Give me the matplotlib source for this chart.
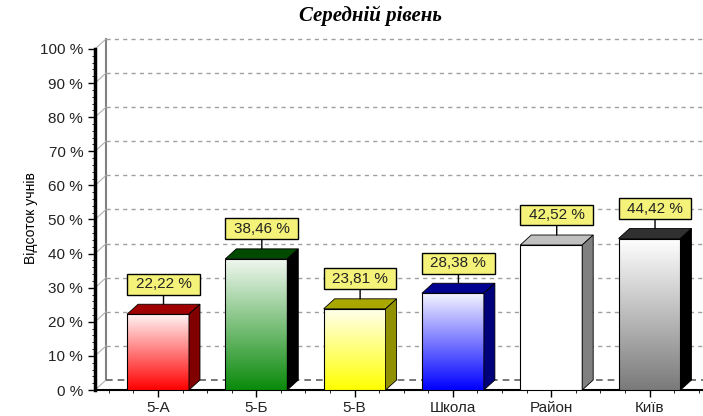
import numpy as np
import matplotlib
matplotlib.use("Agg")
import matplotlib.pyplot as plt
from matplotlib.colors import LinearSegmentedColormap
from matplotlib.patches import Polygon, Rectangle
from matplotlib.path import Path

groups = ["5-А", "5-Б", "5-В", "Школа", "Район", "Київ"]
values = [22.22, 38.46, 23.81, 28.38, 42.52, 44.42]
labels = ["22,22 %", "38,46 %", "23,81 %", "28,38 %", "42,52 %", "44,42 %"]
y_ticks = [0, 10, 20, 30, 40, 50, 60, 70, 80, 90, 100]

# face gradient (top -> bottom), top face, side face
face_top = ["#fff4f4", "#f2f8f2", "#fffff0", "#f4f4ff", "#ffffff", "#ffffff"]
face_bottom = ["#ff0000", "#0a8a0a", "#ffff00", "#0000ff", "#ffffff", "#7a7a7a"]
top_col = ["#a00000", "#004a00", "#a8a800", "#000090", "#c0c0c0", "#303030"]
side_col = ["#800000", "#000000", "#909000", "#00007a", "#808080", "#000000"]


def wide_box(x0, y0, width, height, mutation_size):
    # label box: wider on the sides than on top/bottom
    padx = 0.55 * mutation_size
    pady = 0.22 * mutation_size
    x0, y0 = x0 - padx, y0 - pady
    x1, y1 = x0 + width + 2 * padx, y0 + height + 2 * pady
    return Path([(x0, y0), (x1, y0), (x1, y1), (x0, y1), (x0, y0)], closed=True)


plt.rcParams["font.family"] = ["Liberation Sans", "DejaVu Sans"]

fig = plt.figure(figsize=(7.03, 4.16), dpi=100)
ax = fig.add_axes([95 / 703, 26 / 416, 608 / 703, 355 / 416])

x0, x1 = -0.641, 5.544
dx, dy = 0.112, 2.93
w = 0.63

# back wall, grid and floor
ax.plot([x0 + dx, x0 + dx], [dy, 100 + dy], color="#808080", lw=1.5, zorder=1)
for t in y_ticks:
    ax.plot([x0, x0 + dx], [t, t + dy], color="#b0b0b0", lw=0.8, zorder=1)
    if t == 0:
        ax.plot([x0 + dx, x1], [dy, dy], color="#606060", lw=1.2, ls=(0, (4, 3)), zorder=1)
    else:
        ax.plot([x0 + dx, x1], [t + dy, t + dy], color="#a0a0a0", lw=1, ls=(0, (3, 3)), zorder=1)

grad = np.linspace(0, 1, 256).reshape(-1, 1)
for i, v in enumerate(values):
    cmap = LinearSegmentedColormap.from_list("g%d" % i, [face_top[i], face_bottom[i]])
    ax.imshow(grad, cmap=cmap, extent=(i - w / 2, i + w / 2, 0, v), origin="upper",
              aspect="auto", zorder=3)
    ax.add_patch(Rectangle((i - w / 2, 0), w, v, fill=False, ec="black", lw=0.8, zorder=4))
    ax.add_patch(Polygon([(i - w / 2, v), (i + w / 2, v), (i + w / 2 + dx, v + dy),
                          (i - w / 2 + dx, v + dy)], closed=True, fc=top_col[i],
                         ec="black", lw=0.6, zorder=4))
    ax.add_patch(Polygon([(i + w / 2, 0), (i + w / 2 + dx, dy), (i + w / 2 + dx, v + dy),
                          (i + w / 2, v)], closed=True, fc=side_col[i],
                         ec="black", lw=0.6, zorder=4))
    ax.annotate(labels[i], xy=(i + dx / 2, v + dy), xytext=(0, 13), textcoords="offset pixels",
                ha="center", va="bottom", fontsize=11, color="#222222",
                bbox=dict(boxstyle=wide_box, fc="#f5f27a", ec="black", lw=1),
                arrowprops=dict(arrowstyle="-", color="black", lw=1, shrinkA=0, shrinkB=0),
                zorder=5)

ax.set_xlim(x0, x1)
ax.set_ylim(0, 104.1)

for s in ["top", "right"]:
    ax.spines[s].set_visible(False)
ax.spines["left"].set_bounds(0, 100)
ax.spines["left"].set_linewidth(2.5)
ax.spines["bottom"].set_linewidth(1.5)

ax.set_yticks(y_ticks)
ax.set_yticklabels(["%d %%" % t for t in y_ticks])
ax.set_yticks(np.arange(0, 101, 2), minor=True)
ax.set_xticks(range(len(groups)))
ax.set_xticklabels(groups)
ax.set_xticks(np.arange(-0.5, 5.51, 0.25), minor=True)
ax.tick_params(axis="both", which="major", labelsize=11, labelcolor="#222222", length=5, width=1)
ax.tick_params(axis="both", which="minor", length=2, width=0.6)
ax.tick_params(axis="x", pad=3)

ax.set_ylabel("Відсоток учнів", fontsize=10)
ax.yaxis.set_label_coords(-0.094, 0.485)

fig.text(370 / 703, 1 - 16 / 416, "Середній рівень", ha="center", va="center",
         fontsize=15, fontweight="bold", style="italic", family="Liberation Serif")

fig.savefig("out.png", dpi=100)
